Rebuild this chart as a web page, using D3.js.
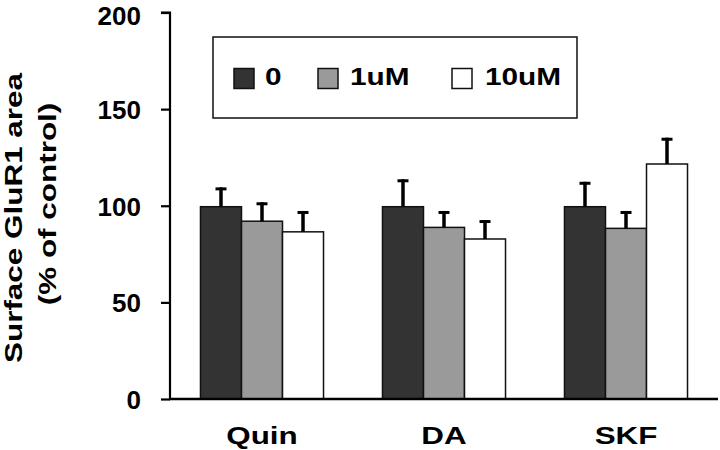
<!DOCTYPE html>
<html>
<head>
<meta charset="utf-8">
<script src="https://cdn.jsdelivr.net/npm/d3@7"></script>
<style>
  html, body { margin: 0; padding: 0; background: #fff; }
  svg { display: block; }
  text { font-family: "Liberation Sans", Arial, Helvetica, sans-serif; font-weight: bold; fill: #000; }
</style>
</head>
<body>
<svg id="chart" width="720" height="450"></svg>
<script>
// ---- data ----
const categories = ["Quin", "DA", "SKF"];
const seriesNames = ["0", "1uM", "10uM"];
const meanQuin = [99.5, 92.0, 86.5];
const meanDA   = [99.5, 88.8, 82.8];
const meanSKF  = [99.5, 88.3, 121.6];
const errQuin  = [10.0, 9.8, 10.8];
const errDA    = [14.2, 8.5, 9.8];
const errSKF   = [12.9, 9.0, 13.6];
const yTicks   = [0, 50, 100, 150, 200];

const means = [meanQuin, meanDA, meanSKF];
const errs = [errQuin, errDA, errSKF];
const fills = ["#333333", "#9a9a9a", "#ffffff"];
const STRETCH = 1.28;

const svg = d3.select("#chart");

const y = d3.scaleLinear().domain([0, 200]).range([399, 12.5]);
const x0 = d3.scaleBand().domain(categories).range([171, 717]).paddingInner(0.324).paddingOuter(0.162);
const x1 = d3.scaleBand().domain(seriesNames).range([0, x0.bandwidth()]);

function stretch(sel, k) {
  sel.each(function () {
    const len = this.getComputedTextLength();
    d3.select(this).attr("textLength", len * k).attr("lengthAdjust", "spacingAndGlyphs");
  });
}

// bars
const rows = [];
categories.forEach((c, i) => seriesNames.forEach((s, j) => rows.push({ c, s, j, v: means[i][j], e: errs[i][j] })));

const g = svg.append("g");
g.selectAll("rect.bar").data(rows).enter().append("rect")
  .attr("class", "bar")
  .attr("x", d => x0(d.c) + x1(d.s))
  .attr("y", d => y(d.v))
  .attr("width", x1.bandwidth())
  .attr("height", d => y(0) - y(d.v))
  .attr("fill", d => fills[d.j])
  .attr("stroke", "#111")
  .attr("stroke-width", 1.5);

// error bars
g.selectAll("line.stem").data(rows).enter().append("line")
  .attr("x1", d => x0(d.c) + x1(d.s) + x1.bandwidth() / 2)
  .attr("x2", d => x0(d.c) + x1(d.s) + x1.bandwidth() / 2)
  .attr("y1", d => y(d.v))
  .attr("y2", d => y(d.v + d.e))
  .attr("stroke", "#000").attr("stroke-width", 3.5);
g.selectAll("line.cap").data(rows).enter().append("line")
  .attr("x1", d => x0(d.c) + x1(d.s) + x1.bandwidth() / 2 - 5.5)
  .attr("x2", d => x0(d.c) + x1(d.s) + x1.bandwidth() / 2 + 5.5)
  .attr("y1", d => y(d.v + d.e) + 1.5)
  .attr("y2", d => y(d.v + d.e) + 1.5)
  .attr("stroke", "#000").attr("stroke-width", 3);

// y axis
const yAxis = svg.append("g").attr("transform", "translate(170,0)")
  .call(d3.axisLeft(y).tickValues(yTicks).tickSize(9).tickPadding(20));
yAxis.select(".domain").attr("stroke", "#000").attr("stroke-width", 2.2).attr("d", `M-9,${y(200)}H0V${y(0)}`);
yAxis.selectAll(".tick line").attr("stroke", "#000").attr("stroke-width", 2.2);
yAxis.selectAll(".tick text").attr("font-size", 26).attr("fill", "#000")
  .attr("font-family", "'Liberation Sans', Arial, sans-serif").attr("font-weight", "bold")
  .attr("dy", d => d === 200 ? "0.46em" : "0.36em");

// x axis
const xAxis = svg.append("g").attr("transform", `translate(0,${y(0)})`)
  .call(d3.axisBottom(x0).tickSize(0).tickPadding(0));
xAxis.select(".domain").attr("stroke", "#000").attr("stroke-width", 2.3).attr("d", "M169,0H718");
xAxis.selectAll(".tick text").attr("font-size", 24.5).attr("fill", "#000")
  .attr("font-family", "'Liberation Sans', Arial, sans-serif").attr("font-weight", "bold")
  .attr("y", 45).attr("dy", 0)
  .call(stretch, STRETCH);

// y axis title
const title = svg.append("g").attr("transform", "rotate(-90)");
title.append("text").attr("x", -218).attr("y", 22).attr("text-anchor", "middle")
  .attr("font-size", 24).text("Surface GluR1 area").call(stretch, 1.31);
title.append("text").attr("x", -204).attr("y", 56).attr("text-anchor", "middle")
  .attr("font-size", 24).text("(% of control)").call(stretch, 1.31);

// legend
const lg = svg.append("g");
lg.append("rect").attr("x", 213).attr("y", 37).attr("width", 364).attr("height", 81)
  .attr("fill", "#fff").attr("stroke", "#111").attr("stroke-width", 1.5);
const legX = [234, 318, 452];
const legTX = [265, 350, 485];
seriesNames.forEach((s, j) => {
  lg.append("rect").attr("x", legX[j]).attr("y", 68.5).attr("width", 20).attr("height", 20)
    .attr("fill", fills[j]).attr("stroke", "#111").attr("stroke-width", 1.5);
  lg.append("text").attr("x", legTX[j]).attr("y", 85).attr("font-size", 24).text(s).call(stretch, 1.24);
});
</script>
</body>
</html>
